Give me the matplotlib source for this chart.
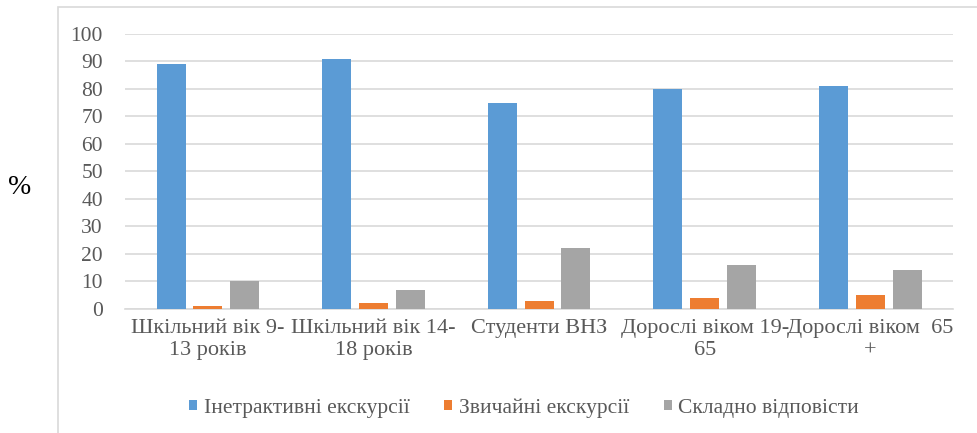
import matplotlib.pyplot as plt
import numpy as np
from matplotlib.patches import Rectangle

plt.rcParams['font.family'] = ['Liberation Serif', 'DejaVu Serif']

categories = ['Шкільний вік 9-\n13 років', 'Шкільний вік 14-\n18 років', 'Студенти ВНЗ',
              'Дорослі віком 19-\n65', 'Дорослі віком  65\n+']
interactive = [89, 91, 75, 80, 81]
regular = [1, 2, 3, 4, 5]
hard = [10, 7, 22, 16, 14]
series_names = ['Інетрактивні екскурсії', 'Звичайні екскурсії', 'Складно відповісти']
colors = ['#5B9BD5', '#ED7D31', '#A5A5A5']

fig = plt.figure(figsize=(9.77, 4.33), dpi=100)
ax = fig.add_axes([0.128, 0.2864, 0.8475, 0.6351])

# outer chart frame
fig.patches.append(Rectangle((58/977, -0.1), 1.0, 1.1 - 7/433, transform=fig.transFigure,
                             fill=False, edgecolor='#d9d9d9', linewidth=1.2))

x = np.arange(len(categories))
w = 0.175
step = 0.222
for i, (vals, name, c) in enumerate(zip([interactive, regular, hard], series_names, colors)):
    ax.bar(x + (i - 1) * step, vals, width=w, color=c, label=name, zorder=3)

ax.set_xlim(-0.5, len(categories) - 0.5)
ax.set_ylim(0, 100)
ax.set_yticks(range(0, 101, 10))
ax.set_xticks(x)
ax.set_xticklabels(categories, linespacing=1.25, fontsize=16)
ax.grid(axis='y', color='#d9d9d9', linewidth=1.2, zorder=0)
for s in ['top', 'right', 'left']:
    ax.spines[s].set_visible(False)
ax.spines['bottom'].set_color('#d9d9d9')
ax.spines['bottom'].set_linewidth(1.2)
ax.tick_params(axis='both', length=0, labelcolor='#595959')
ax.tick_params(axis='y', labelsize=15.5, pad=16)
ax.tick_params(axis='x', pad=7)

fig.text(20/977, 1 - 188/433, '%', fontsize=20, ha='center', va='center', color='#000000')

ax.legend(loc='center', bbox_to_anchor=(524/977, 1 - 408/433), bbox_transform=fig.transFigure,
          ncol=3, frameon=False, fontsize=15.5, labelcolor='#595959', handlelength=0.38,
          handleheight=0.38, handletextpad=0.3, columnspacing=1.6)

plt.savefig('out.png', dpi=100)
